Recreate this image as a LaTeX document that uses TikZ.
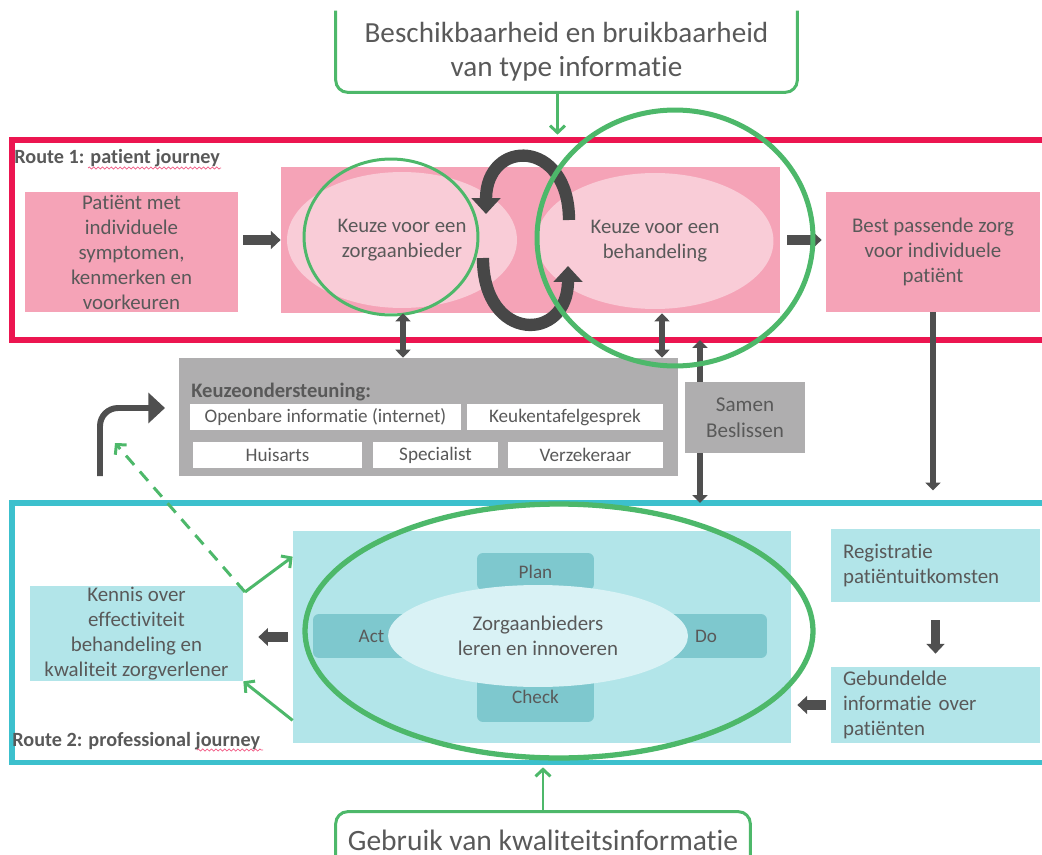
\documentclass[tikz,border=0pt]{standalone}
\usepackage{fontspec}
\setmainfont{Carlito}[Ligatures=NoCommon]
\usetikzlibrary{arrows.meta,fit,shapes.geometric,decorations.pathmorphing}
\definecolor{txtgray}{HTML}{595959}
\definecolor{darkarrow}{HTML}{4F4F4F}
\definecolor{routered}{HTML}{EC1550}
\definecolor{routecyan}{HTML}{3CC0CD}
\definecolor{boxpink}{HTML}{F5A3B7}
\definecolor{lightpink}{HTML}{F9CCD7}
\definecolor{boxcyan}{HTML}{B2E5E9}
\definecolor{pdcacyan}{HTML}{7EC8CE}
\definecolor{lightcyan}{HTML}{D9F2F5}
\definecolor{supportgray}{HTML}{AFAEAF}
\definecolor{ringgreen}{HTML}{4DB86A}
\tikzset{
	box/.style={inner sep=0pt, align=center, text=txtgray, font=\fontsize{11.9}{14.2}\selectfont},
	pinkbox/.style={box, fill=boxpink},
	cyanbox/.style={box, fill=boxcyan},
	whitebox/.style={box, fill=white, minimum height=0.52cm, font=\fontsize{10.9}{12}\selectfont},
	pdcabox/.style={box, fill=pdcacyan, rounded corners=0.12cm, font=\fontsize{10.9}{12}\selectfont},
	innerpink/.style={ellipse, fill=lightpink, inner sep=0pt, align=center, text=txtgray, font=\fontsize{11.8}{14.2}\selectfont},
	greenring/.style={ellipse, draw=ringgreen, inner sep=0pt},
	routeframe/.style={draw, line width=2.85pt, inner sep=0pt},
	routelabel/.style={anchor=west, inner sep=0pt, text=txtgray, font=\fontsize{11.5}{12}\selectfont\bfseries},
	greenline/.style={draw=ringgreen, line width=1.7pt},
	greenarrow/.style={ringgreen, line width=1.7pt, -{Straight Barb[width=8.5pt,length=4pt]}},
	blockarrow/.style={darkarrow, line width=5.5pt, -{Triangle[width=10pt,length=5.5pt]}},
	thinarrow/.style={darkarrow, line width=3.2pt, -{Triangle[width=8.5pt,length=4.5pt]}},
	bothways/.style={darkarrow, line width=3.2pt, {Triangle[width=8.5pt,length=4.5pt]}-{Triangle[width=8.5pt,length=4.5pt]}},
	cyclearrow/.style={darkarrow!90!black, line width=7pt, -{Triangle[width=16pt,length=9pt]}},
	squiggle/.style={routered!70, line width=0.4pt, decorate, decoration={snake, amplitude=0.6pt, segment length=2.5pt}}
}
\begin{document}
\begin{tikzpicture}[x=0.02cm, y=-0.02cm]
	\useasboundingbox (0,0) rectangle (1042,855);
	\clip (0,0) rectangle (1042,855);

	% box on top
	\node[box, font=\fontsize{16.6}{19.5}\selectfont, minimum width=9.22cm, minimum height=1.6cm] (avail) at (566.5,52) {Beschikbaarheid en bruikbaarheid\\van type informatie};
	\draw[greenline, rounded corners=0.24cm] ([yshift=0.02cm]avail.north west) -- (avail.south west) -- (avail.south east) -- ([yshift=0.02cm]avail.north east);

	% route 1
	\node[routeframe, draw=routered, fit={(12,140) (1080,340)}] (route1) {};
	\node[routelabel] (route1lbl) at (14,158) {Route 1: patient journey};
	\draw[squiggle] (88,168) -- (221,168);

	\node[pinkbox, minimum width=4.26cm, minimum height=2.4cm] (patient) at (131.5,252) {Patiënt met\\individuele\\symptomen,\\kenmerken en\\voorkeuren};
	\node[pinkbox, fit={(281,167) (780,313)}] (choicebox) {};
	\node[innerpink, minimum width=4.6cm, minimum height=2.72cm] (provider) at (402,240) {Keuze voor een\\zorgaanbieder};
	\node[innerpink, minimum width=4.74cm, minimum height=2.72cm] (treatment) at (655,241) {Keuze voor een\\behandeling};
	\node[pinkbox, minimum width=4.28cm, minimum height=2.4cm] (best) at (933,252) {Best passende zorg\\voor individuele\\patiënt};

	\draw[cyclearrow] (569,220) .. controls (569,138) and (486,138) .. (486,214);
	\draw[cyclearrow] (483,258) .. controls (483,343) and (568,343) .. (568,266);

	\node[greenring, line width=1.7pt, minimum width=3.48cm, minimum height=3.12cm] (providerring) at (391,237) {};

	\draw[blockarrow, shorten <=0.1cm] (patient.east |- choicebox.west) -- (choicebox.west);
	\draw[blockarrow, shorten <=0.14cm, shorten >=0.08cm] (choicebox.east) -- (best.west |- choicebox.east);

	% keuzeondersteuning
	\node[box, fill=supportgray, fit={(179,358) (678,476)}] (support) {};
	\node[routelabel, font=\fontsize{11.7}{12}\selectfont\bfseries] (supportlbl) at (191,392) {Keuzeondersteuning:};
	\node[whitebox, minimum width=5.42cm] (public) at (325.5,417) {Openbare informatie (internet)};
	\node[whitebox, minimum width=3.92cm] (kitchen) at (565,417) {Keukentafelgesprek};
	\node[whitebox, minimum width=3.38cm] (gp) at (277.5,455) {Huisarts};
	\node[whitebox, minimum width=2.5cm] (specialist) at (435.5,455) {Specialist};
	\node[whitebox, minimum width=3.1cm] (insurer) at (585.5,455) {Verzekeraar};

	\draw[bothways] ([xshift=0.02cm]provider.center |- choicebox.south) -- ([xshift=0.02cm]provider.center |- support.north);
	\draw[bothways] ([xshift=0.14cm]treatment.center |- choicebox.south) -- ([xshift=0.14cm]treatment.center |- support.north);

	% route 2
	\node[routeframe, draw=routecyan, fit={(12,503) (1080,762)}] (route2) {};
	\node[routelabel] (route2lbl) at (12,741) {Route 2: professional journey};
	\draw[squiggle] (197,750) -- (263,750);

	\draw[bothways] (700,340) -- (700,503);
	\node[box, fill=supportgray, font=\fontsize{12}{14.8}\selectfont, minimum width=2.4cm, minimum height=1.42cm] (samen) at (745,417.5) {Samen\\Beslissen};
	\draw[thinarrow, shorten >=0.2cm] (best.south) -- (best.south |- route2.north);

	\node[cyanbox, fit={(293,531) (791,743)}] (pdca) {};
	\node[pdcabox, minimum width=2.34cm, minimum height=0.74cm] (plan) at (535.5,571.5) {Plan};
	\node[pdcabox, minimum width=2.34cm, minimum height=0.88cm] (act) at (371.5,636) {Act};
	\node[pdcabox, minimum width=2.44cm, minimum height=0.88cm] (do) at (706,636) {Do};
	\node[pdcabox, minimum width=2.34cm, minimum height=1.0cm] (check) at (535.5,697) {Check};
	\node[ellipse, fill=lightcyan, inner sep=0pt, align=center, text=txtgray, font=\fontsize{11.9}{14.2}\selectfont, minimum width=6cm, minimum height=2.04cm] (learn) at (538,636) {Zorgaanbieders\\leren en innoveren};
	\node[greenring, line width=3pt, minimum width=10.16cm, minimum height=5.08cm] (learnring) at (559,631) {};

	\node[cyanbox, minimum width=4.26cm, minimum height=1.9cm] (kennis) at (136.5,633.5) {Kennis over\\effectiviteit\\behandeling en\\kwaliteit zorgverlener};
	\node[cyanbox, align=left, text width=3.7cm, minimum width=4.18cm, minimum height=1.46cm] (registratie) at (935.5,565.5) {Registratie\\patiëntuitkomsten};
	\node[cyanbox, align=left, text width=3.7cm, minimum width=4.18cm, minimum height=1.52cm] (gebundeld) at (935.5,705) {Gebundelde\\informatie over\\patiënten};

	\draw[blockarrow, shorten <=0.1cm, shorten >=0.3cm] (pdca.west) -- (kennis.east |- pdca.west);
	\draw[blockarrow, shorten <=0.36cm, shorten >=0.26cm] (registratie.south) -- (gebundeld.north);
	\draw[blockarrow, shorten <=0.1cm, shorten >=0.12cm] (gebundeld.west) -- (pdca.east |- gebundeld.west);

	% knowledge back to the choice support
	\coordinate (fork) at (245,592);
	\coordinate (backtip) at (115,443);
	\draw[greenarrow, dash pattern=on 7pt off 5pt] (fork) -- (backtip);
	\draw[greenarrow] (fork) -- ([yshift=-0.52cm]pdca.north west);
	\draw[greenarrow] ([yshift=0.46cm]pdca.south west) -- (kennis.south east);

	\coordinate (bendstart) at (100,476);
	\coordinate (bendtip) at (165,408);
	\draw[darkarrow, line width=3.4pt, rounded corners=0.36cm, -{Triangle[width=17pt,length=9.5pt]}] (bendstart) |- (bendtip);

	% rings drawn over the rest
	\node[greenring, line width=2.85pt, minimum width=5.52cm, minimum height=5.12cm] (treatmentring) at (675,238) {};
	\draw[greenarrow, shorten >=1.6pt] ([xshift=-0.18cm]avail.south) -- ([xshift=-0.18cm]avail.south |- route1.north);

	% box at the bottom
	\node[box, font=\fontsize{16.8}{19.5}\selectfont, minimum width=8.28cm, minimum height=1.12cm] (gebruik) at (543,840) {Gebruik van kwaliteitsinformatie};
	\draw[greenline, rounded corners=0.24cm] (gebruik.south west) -- (gebruik.north west) -- (gebruik.north east) -- (gebruik.south east);
	\draw[greenarrow, shorten >=1.6pt] (gebruik.north) -- (gebruik.north |- route2.south);
\end{tikzpicture}
\end{document}
